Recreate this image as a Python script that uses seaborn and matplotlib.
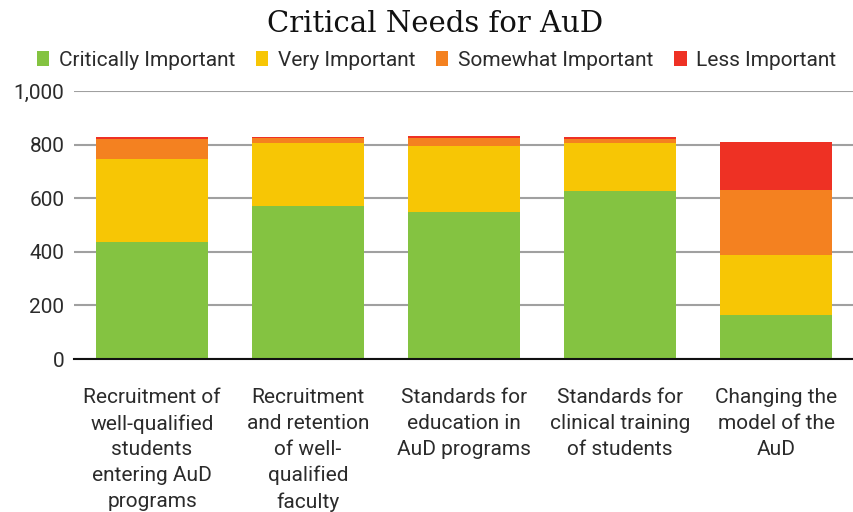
import numpy as np
import pandas as pd
import matplotlib
matplotlib.use("Agg")
import matplotlib.pyplot as plt
import seaborn as sns
from matplotlib.patches import Patch

# data
categories = [
    "Recruitment of\nwell-qualified\nstudents\nentering AuD\nprograms",
    "Recruitment\nand retention\nof well-\nqualified\nfaculty",
    "Standards for\neducation in\nAuD programs",
    "Standards for\nclinical training\nof students",
    "Changing the\nmodel of the\nAuD",
]
critically = [435, 570, 550, 625, 165]
very = [310, 237, 243, 182, 223]
somewhat = [74, 19, 31, 15, 241]
less = [8, 4, 7, 8, 182]

series_names = ["Critically Important", "Very Important", "Somewhat Important", "Less Important"]
colors = ["#84C341", "#F7C605", "#F48120", "#EE3124"]

df = pd.DataFrame({"category": categories,
                   series_names[0]: critically,
                   series_names[1]: very,
                   series_names[2]: somewhat,
                   series_names[3]: less})

sns.set_style("white")
plt.rcParams['font.family'] = ['Roboto', 'DejaVu Sans']
txt_color = "#2b2b2b"

fig = plt.figure(figsize=(8.54, 5.12), dpi=100)
ax = fig.add_axes([0.0867, 0.2988, 0.9133, 0.5235])

bottom = np.zeros(len(categories))
for name, col in zip(series_names, colors):
    sns.barplot(data=df, x="category", y=name, color=col, width=0.72,
                bottom=bottom, ax=ax, saturation=1, zorder=3, linewidth=0)
    bottom = bottom + df[name].values

ax.set_ylim(0, 1000)
ax.set_xlim(-0.5, 4.5)
ax.set_yticks([0, 200, 400, 600, 800, 1000])
ax.set_yticklabels(["0", "200", "400", "600", "800", "1,000"], fontsize=15, color=txt_color)
ax.tick_params(axis="y", length=0, pad=7)
ax.tick_params(axis="x", length=0, pad=21)
ax.set_xticks(range(len(categories)))
ax.set_xticklabels(categories, fontsize=15, color=txt_color, linespacing=1.45)
ax.set_xlabel("")
ax.set_ylabel("")
ax.yaxis.grid(True, color="#a0a0a0", linewidth=1.5, zorder=0)
for s in ["top", "right", "left"]:
    ax.spines[s].set_visible(False)
ax.spines["bottom"].set_color("#111111")
ax.spines["bottom"].set_linewidth(1.5)
ax.spines["bottom"].set_zorder(5)

fig.text(0.51, 0.953, "Critical Needs for AuD", ha="center", va="center",
         fontsize=21, family=["DejaVu Serif"], color="#111111")

handles = [Patch(facecolor=c, edgecolor="none") for c in colors]
fig.legend(handles, series_names, loc="center", bbox_to_anchor=(0.511, 0.882), ncol=4,
           frameon=False, fontsize=15, handlelength=0.6, handleheight=0.7,
           handletextpad=0.45, columnspacing=1.0, labelcolor=txt_color)

fig.savefig("out.png", dpi=100)
